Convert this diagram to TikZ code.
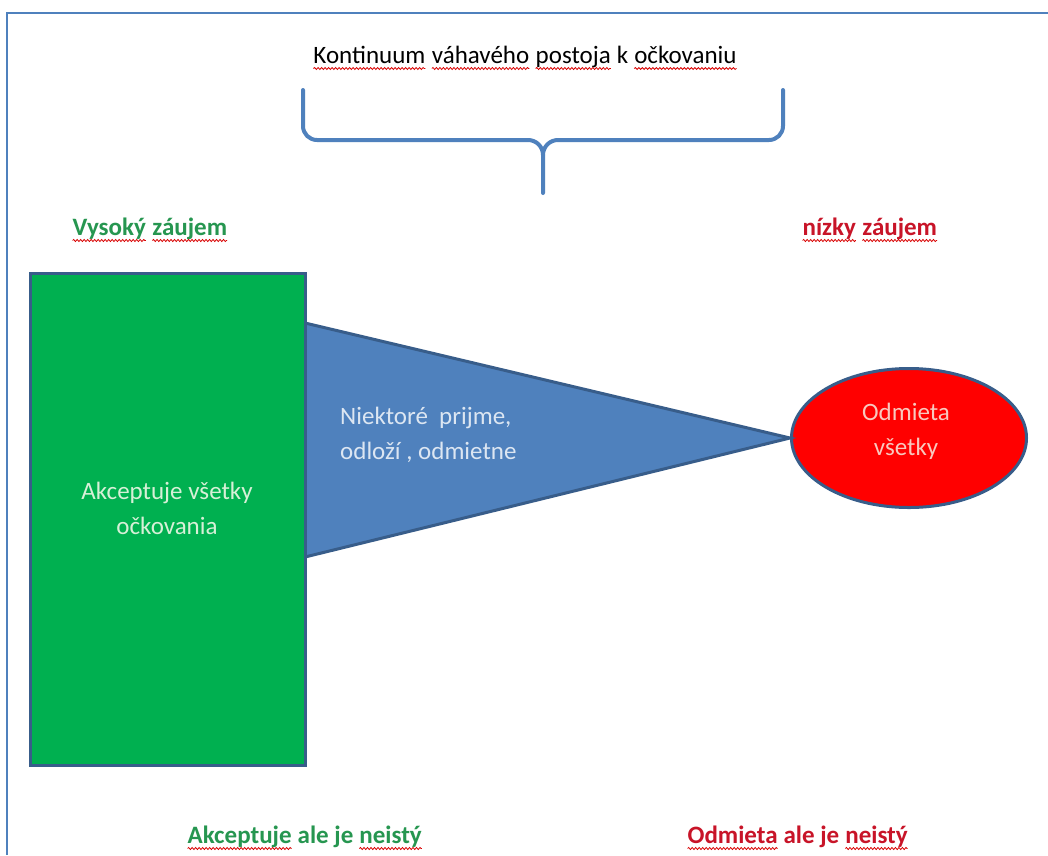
\documentclass[tikz,border=0pt]{standalone}
\usepackage{fontspec}
\setmainfont{Carlito}
\usetikzlibrary{shapes.geometric,decorations.pathmorphing}
\newcommand\sq[1]{\tikz[baseline=(w.base)]{\node[inner sep=0pt, outer sep=0pt, anchor=base] (w) at (0,0) {#1};
  \draw[red!85!black, line width=0.8pt, decorate, decoration={snake, amplitude=1pt, segment length=3.5pt}] ([yshift=-5.5pt]w.base west) -- ([yshift=-5.5pt]w.base east);}}
\definecolor{frameblue}{HTML}{4F81BD}
\definecolor{edgeblue}{HTML}{385D8A}
\definecolor{boxgreen}{HTML}{00B050}
\definecolor{labgreen}{RGB}{38,150,80}
\definecolor{labred}{RGB}{200,20,40}
\definecolor{ingreen}{RGB}{215,240,215}
\definecolor{inblue}{HTML}{DCE6F2}
\definecolor{inred}{RGB}{248,200,190}
\tikzset{
  frameline/.style={draw=frameblue, line width=2.5pt},
  bracepath/.style={draw=frameblue, line width=4pt, line cap=round, line join=round},
  shapeedge/.style={draw=edgeblue, line width=3pt, line join=miter},
  plaintext/.style={inner sep=0pt, font=\fontsize{25}{35}\selectfont},
  boldlabel/.style={plaintext, font=\fontsize{25}{35}\selectfont\bfseries},
  innertext/.style={plaintext, font=\fontsize{25}{35}\selectfont, align=center},
}
\begin{document}
\begin{tikzpicture}[x=1pt, y=-1pt]
\useasboundingbox (0,0) rectangle (1048,855);
\fill[white] (0,0) rectangle (1048,855);
% frame
\coordinate (fbl) at (7,855);
\coordinate (ftl) at (7,13);
\coordinate (ftr) at (1048,13);
\draw[frameline] (fbl) -- (ftl) -- (ftr);
% title
\node[plaintext, anchor=base] (title) at (525,63) {\sq{Kontinuum} \sq{váhavého} \sq{postoja} k \sq{očkovaniu}};
% brace
\coordinate (bl) at (303,90);
\coordinate (br) at (783,90);
\coordinate (bt) at (543,193);
\draw[bracepath] (bl) -- (303,126) to[out=-90,in=180] (317,140) -- (528,140) to[out=0,in=90] (543,155) -- (bt);
\draw[bracepath] (br) -- (783,126) to[out=-90,in=0] (769,140) -- (558,140) to[out=180,in=90] (543,155);
% labels
\node[boldlabel, text=labgreen, anchor=base west] (hi) at (72,235) {\sq{Vysoký} \sq{záujem}};
\node[boldlabel, text=labred, anchor=base west] (lo) at (802,235) {\sq{nízky} \sq{záujem}};
% ellipse
\node[ellipse, shapeedge, fill=red, minimum width=235pt, minimum height=139pt, inner sep=0pt] (ell) at (909,438) {};
% triangle
\coordinate (ttop) at (305,323);
\coordinate (tbot) at (305,557);
\filldraw[shapeedge, fill=frameblue] (ttop) -- (ell.west) -- (tbot) -- cycle;
% rectangle
\node[rectangle, shapeedge, fill=boxgreen, minimum width=275pt, minimum height=492pt, inner sep=0pt] (acc) at (167.5,519) {};
% inner texts
\node[innertext, text=ingreen] (acct) at (167,508) {Akceptuje všetky\\očkovania};
\node[innertext, text=inblue, align=left, anchor=west] (midt) at (340,435) {Niektoré\ \ prijme,\\odloží , odmietne};
\node[innertext, text=inred] (ellt) at (906,431) {Odmieta\\všetky};
% bottom labels
\node[boldlabel, text=labgreen, anchor=base west] (accu) at (187,843) {\sq{Akceptuje} ale je \sq{neistý}};
\node[boldlabel, text=labred, anchor=base west] (reju) at (687,843) {\sq{Odmieta} ale je \sq{neistý}};
\end{tikzpicture}
\end{document}
